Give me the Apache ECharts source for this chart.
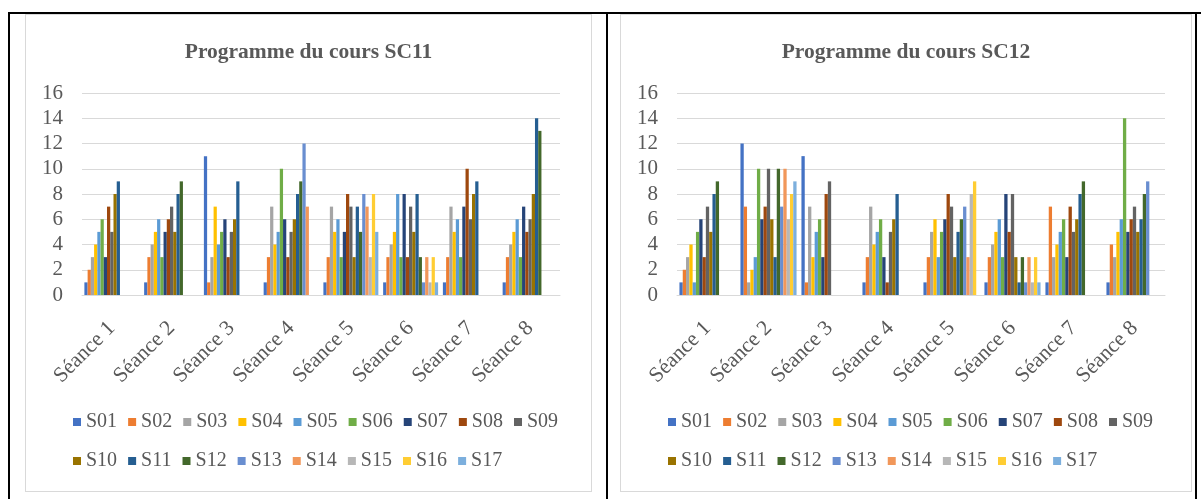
<!DOCTYPE html>
<html>
<head>
<meta charset="utf-8">
<script src="https://cdn.jsdelivr.net/npm/echarts@6/dist/echarts.min.js"></script>
<style>
  body { margin: 0; background: #ffffff; width: 1201px; height: 499px; overflow: hidden; position: relative; }
  .line { position: absolute; background: #000000; }
  .box { position: absolute; border: 1px solid #d9d9d9; background: #ffffff; }
</style>
</head>
<body>
  <div class="line" style="left:8px;top:12px;width:1193px;height:2px;"></div>
  <div class="line" style="left:8px;top:12px;width:2px;height:487px;"></div>
  <div class="line" style="left:606px;top:12px;width:2px;height:487px;"></div>
  <div class="line" style="left:1195px;top:12px;width:2px;height:487px;"></div>
  <div id="chartSC11" class="box" style="left:25px;top:14px;width:565px;height:476px;"></div>
  <div id="chartSC12" class="box" style="left:620px;top:14px;width:570px;height:476px;"></div>

<script>
  // categories
  const seances = ['Séance 1','Séance 2','Séance 3','Séance 4','Séance 5','Séance 6','Séance 7','Séance 8'];
  const seriesNames = ['S01','S02','S03','S04','S05','S06','S07','S08','S09','S10','S11','S12','S13','S14','S15','S16','S17'];
  const yTicks = [0, 2, 4, 6, 8, 10, 12, 14, 16];

  // Excel office palette
  const colors = ['#4472C4','#ED7D31','#A5A5A5','#FFC000','#5B9BD5','#70AD47','#264478','#9E480E','#636363',
                  '#997300','#255E91','#43682B','#698ED0','#F1975A','#B7B7B7','#FFCD33','#7CAFDD'];

  // SC11 : one row per séance, values S01..S17
  const sc11 = [
    [1, 2, 3, 4, 5, 6, 3, 7, 5, 8, 9, 0, 0, 0, 0, 0, 0],
    [1, 3, 4, 5, 6, 3, 5, 6, 7, 5, 8, 9, 0, 0, 0, 0, 0],
    [11, 1, 3, 7, 4, 5, 6, 3, 5, 6, 9, 0, 0, 0, 0, 0, 0],
    [1, 3, 7, 4, 5, 10, 6, 3, 5, 6, 8, 9, 12, 7, 0, 0, 0],
    [1, 3, 7, 5, 6, 3, 5, 8, 7, 3, 7, 5, 8, 7, 3, 8, 5],
    [1, 3, 4, 5, 8, 3, 8, 3, 7, 5, 8, 3, 1, 3, 1, 3, 1],
    [1, 3, 7, 5, 6, 3, 7, 10, 6, 8, 9, 0, 0, 0, 0, 0, 0],
    [1, 3, 4, 5, 6, 3, 7, 5, 6, 8, 14, 13, 0, 0, 0, 0, 0]
  ];

  // SC12 : one row per séance, values S01..S17
  const sc12 = [
    [1, 2, 3, 4, 1, 5, 6, 3, 7, 5, 8, 9, 0, 0, 0, 0, 0],
    [12, 7, 1, 2, 3, 10, 6, 7, 10, 6, 3, 10, 7, 10, 6, 8, 9],
    [11, 1, 7, 3, 5, 6, 3, 8, 9, 0, 0, 0, 0, 0, 0, 0, 0],
    [1, 3, 7, 4, 5, 6, 3, 1, 5, 6, 8, 0, 0, 0, 0, 0, 0],
    [1, 3, 5, 6, 3, 5, 6, 8, 7, 3, 5, 6, 7, 3, 8, 9, 0],
    [1, 3, 4, 5, 6, 3, 8, 5, 8, 3, 1, 3, 1, 3, 1, 3, 1],
    [1, 7, 3, 4, 5, 6, 3, 7, 5, 6, 8, 9, 0, 0, 0, 0, 0],
    [1, 4, 3, 5, 6, 14, 5, 6, 7, 5, 6, 8, 9, 0, 0, 0, 0]
  ];

  const font = 'Liberation Serif';
  const grey = '#595959';

  function drawChart(domId, title, rows, gridWidth) {
    let myChart = echarts.init(document.getElementById(domId));

    // one series per student, taken column by column from the rows
    let series = seriesNames.map(function (name, i) {
      return {
        name: name,
        type: 'bar',
        barGap: '0%',
        barCategoryGap: '8%',
        itemStyle: { color: colors[i] },
        data: rows.map(function (r) { return r[i]; })
      };
    });

    let legendText = { fontFamily: font, fontSize: 20, color: grey };

    let option = {
      animation: false,
      title: {
        text: title,
        left: 'center',
        top: 21,
        textStyle: { fontFamily: font, fontSize: 21.5, fontWeight: 'bold', color: grey }
      },
      legend: [
        {
          data: seriesNames.slice(0, 9),
          left: 42, top: 392,
          icon: 'rect', itemWidth: 8, itemHeight: 8, itemGap: 11,
          textStyle: legendText
        },
        {
          data: seriesNames.slice(9),
          left: 42, top: 431,
          icon: 'rect', itemWidth: 8, itemHeight: 8, itemGap: 11,
          textStyle: legendText
        }
      ],
      grid: {
        left: 56,
        top: 78,
        width: gridWidth,
        height: 202
      },
      xAxis: {
        type: 'category',
        data: seances,
        axisLine: { lineStyle: { color: '#d9d9d9' } },
        axisTick: { show: false },
        axisLabel: {
          interval: 0,
          rotate: 45,
          margin: 30,
          fontFamily: font,
          fontSize: 21.5,
          color: grey
        }
      },
      yAxis: {
        type: 'value',
        min: yTicks[0],
        max: yTicks[yTicks.length - 1],
        interval: 2,
        axisLine: { show: false },
        axisTick: { show: false },
        splitLine: { lineStyle: { color: '#d9d9d9' } },
        axisLabel: { margin: 19, fontFamily: font, fontSize: 21, color: grey }
      },
      series: series
    };
    myChart.setOption(option, true);
  }

  drawChart('chartSC11', 'Programme du cours SC11', sc11, 478);
  drawChart('chartSC12', 'Programme du cours SC12', sc12, 488);
</script>
</body>
</html>
